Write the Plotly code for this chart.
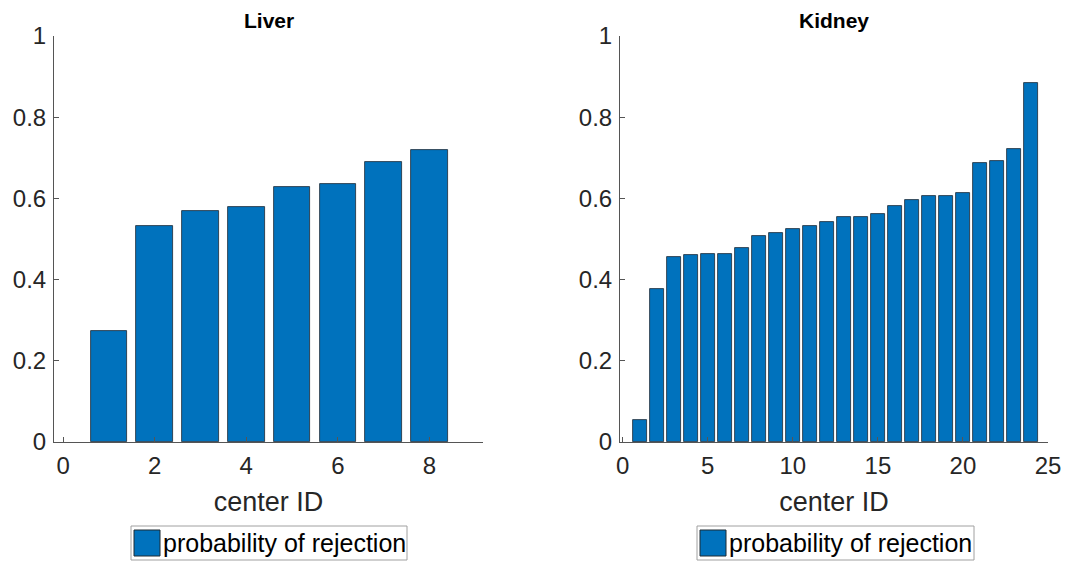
import plotly.graph_objects as go

liver_ids = [1, 2, 3, 4, 5, 6, 7, 8]
liver_prob = [0.273, 0.531, 0.570, 0.580, 0.628, 0.635, 0.689, 0.720]

kidney_ids = list(range(1, 25))
kidney_prob = [0.053, 0.376, 0.455, 0.461, 0.463, 0.463, 0.477, 0.507,
               0.514, 0.524, 0.531, 0.541, 0.554, 0.555, 0.561, 0.581,
               0.595, 0.605, 0.606, 0.614, 0.687, 0.691, 0.721, 0.884]

liver_xticks = [0, 2, 4, 6, 8]
kidney_xticks = [0, 5, 10, 15, 20, 25]
y_ticks = [0, 0.2, 0.4, 0.6, 0.8, 1]
y_ticklabels = ["0", "0.2", "0.4", "0.6", "0.8", "1"]

series_name = "probability of rejection"
titles = ["Liver", "Kidney"]
x_title = "center ID"

W, H = 1067, 564
BLUE = "#0072BD"
AX = "#262626"
FONT = "Liberation Sans, Arial, Helvetica, sans-serif"

def px(x):
    return x / W

def py(y):
    return 1 - y / H

fig = go.Figure()
fig.add_trace(go.Bar(x=liver_ids, y=liver_prob, width=0.8, name=series_name,
                     marker=dict(color=BLUE, line=dict(color="#1e2a33", width=0.8)),
                     xaxis="x", yaxis="y", showlegend=False))
fig.add_trace(go.Bar(x=kidney_ids, y=kidney_prob, width=0.8, name=series_name,
                     marker=dict(color=BLUE, line=dict(color="#1e2a33", width=0.8)),
                     xaxis="x2", yaxis="y2", showlegend=False))

ydom = [py(442), py(36)]
common_x = dict(showline=True, linecolor="#555555", linewidth=1, ticks="inside", ticklen=5,
                tickcolor="#555555", tickfont=dict(family=FONT, size=24, color=AX),
                showgrid=False, zeroline=False, ticklabelstandoff=2, automargin=False,
                title=dict(text=x_title, font=dict(family=FONT, size=27, color=AX), standoff=14))
common_y = dict(showline=True, linecolor="#555555", linewidth=1, ticks="inside", ticklen=5,
                tickcolor="#555555", tickfont=dict(family=FONT, size=24, color=AX),
                showgrid=False, zeroline=False, range=[0, 1], domain=ydom, automargin=False,
                tickvals=y_ticks, ticktext=y_ticklabels, ticklabelstandoff=2)

fig.update_layout(
    width=W, height=H,
    margin=dict(l=0, r=0, t=0, b=0),
    paper_bgcolor="white", plot_bgcolor="white",
    font=dict(family=FONT, color=AX),
    bargap=0,
    xaxis=dict(domain=[px(54), px(483)], range=[-0.2, 9.17], tickvals=liver_xticks,
               anchor="y", **common_x),
    yaxis=dict(anchor="x", **common_y),
    xaxis2=dict(domain=[px(620), px(1048)], range=[-0.16, 25.0], tickvals=kidney_xticks,
                anchor="y2", **common_x),
    yaxis2=dict(anchor="x2", **common_y),
)

# subplot titles
for xd, t in [((54 + 483) / 2, titles[0]), ((620 + 1048) / 2, titles[1])]:
    fig.add_annotation(x=px(xd), y=py(20), xref="paper", yref="paper",
                       text="<b>" + t + "</b>", showarrow=False,
                       font=dict(family=FONT, size=21, color="black"),
                       xanchor="center", yanchor="middle")

# legend boxes (MATLAB style, below each axis)
for (bx0, bx1) in [(131, 407), (697, 974)]:
    fig.add_shape(type="rect", xref="paper", yref="paper",
                  x0=px(bx0), x1=px(bx1), y0=py(560), y1=py(526),
                  line=dict(color="#a0a0a0", width=1), fillcolor="white")
    fig.add_shape(type="rect", xref="paper", yref="paper",
                  x0=px(bx0 + 3), x1=px(bx0 + 29), y0=py(556), y1=py(530),
                  line=dict(color="#1e2a33", width=1), fillcolor=BLUE)
    fig.add_annotation(x=px(bx0 + 30), y=py(543), xref="paper", yref="paper",
                       text=series_name, showarrow=False,
                       font=dict(family=FONT, size=25, color="black"),
                       xanchor="left", yanchor="middle")

fig.write_html("out.html", config={"displayModeBar": False},
               post_script="document.body.style.margin='0';document.body.style.overflow='hidden';")
